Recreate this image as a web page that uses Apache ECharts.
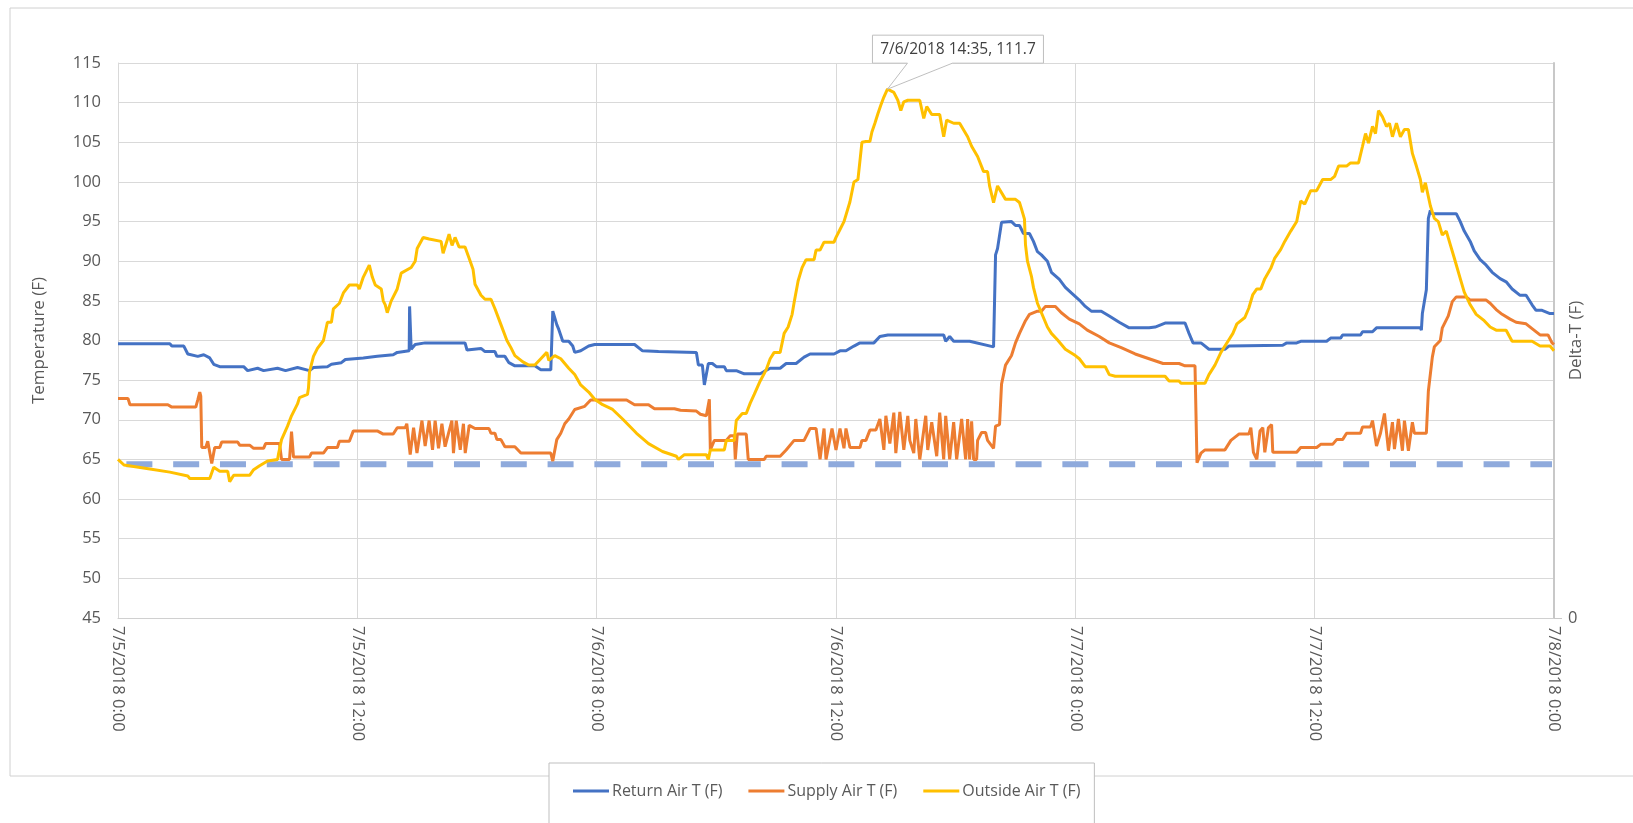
<!DOCTYPE html>
<html>
<head>
<meta charset="utf-8">
<script src="https://cdn.jsdelivr.net/npm/echarts@6/dist/echarts.min.js"></script>
<style>
  html, body { margin: 0; padding: 0; background: #fff; }
  #chart { width: 1633px; height: 823px; }
</style>
</head>
<body>
<div id="chart"></div>
<script>
// hours since 7/5/2018 0:00, temperature (F)
const returnAirT = [
  [0, 79.6], [2.6, 79.6], [2.7, 79.3], [3.3, 79.3], [3.5, 78.3], [4.0, 78.0], [4.3, 78.2], [4.6, 77.8],
  [4.8, 77.0], [5.1, 76.7], [6.3, 76.7], [6.5, 76.2], [7.0, 76.5], [7.3, 76.2], [8.0, 76.5], [8.4, 76.2],
  [9.0, 76.6], [9.6, 76.2], [9.8, 76.6], [10.5, 76.7], [10.7, 77.0], [11.2, 77.2], [11.4, 77.6], [12.3, 77.8],
  [13.0, 78.0], [13.8, 78.2], [14.0, 78.5], [14.6, 78.7], [14.62, 84.3], [14.7, 78.9], [14.9, 79.5], [15.4, 79.7],
  [17.4, 79.7], [17.5, 78.8], [17.6, 79.0], [18.2, 79.0], [18.4, 78.6], [18.9, 78.6], [19.0, 78.0], [19.4, 78.0],
  [19.6, 77.2], [19.9, 76.8], [20.9, 76.8], [21.2, 76.3], [21.7, 76.3], [21.8, 83.7], [22.0, 82.0], [22.1, 81.4],
  [22.3, 79.9], [22.6, 79.9], [22.8, 79.3], [22.9, 78.5], [23.2, 78.7], [23.6, 79.3], [23.9, 79.5], [25.9, 79.5],
  [26.3, 78.7], [27.1, 78.6], [29.0, 78.5], [29.1, 76.9], [29.3, 76.9], [29.4, 74.4], [29.6, 77.1], [29.8, 77.1],
  [30.0, 76.7], [30.4, 76.7], [30.5, 76.2], [31.0, 76.2], [31.4, 75.8], [32.2, 75.8], [32.4, 76.1], [32.7, 76.5],
  [33.2, 76.5], [33.5, 77.1], [34.0, 77.1], [34.4, 77.9], [34.7, 78.3], [35.9, 78.3], [36.2, 78.7], [36.5, 78.7],
  [36.9, 79.3], [37.2, 79.7], [37.9, 79.7], [38.2, 80.5], [38.6, 80.7], [41.4, 80.7], [41.5, 79.9], [41.7, 80.5],
  [41.9, 79.9], [42.7, 79.9], [43.9, 79.2], [44.0, 90.8], [44.1, 91.6], [44.3, 94.9], [44.8, 95.0], [45.0, 94.5],
  [45.2, 94.5], [45.4, 93.5], [45.7, 93.5], [45.9, 92.5], [46.1, 91.2], [46.3, 90.8], [46.6, 90.0], [46.8, 88.6],
  [47.2, 87.7], [47.5, 86.7], [47.8, 86.0], [48.2, 85.1], [48.5, 84.3], [48.8, 83.7], [49.3, 83.7], [49.7, 83.1],
  [50.2, 82.3], [50.7, 81.6], [51.7, 81.6], [52.0, 81.7], [52.5, 82.2], [53.5, 82.2], [53.7, 80.9], [53.9, 79.7],
  [54.3, 79.7], [54.7, 78.9], [55.5, 78.9], [55.7, 79.3], [58.4, 79.4], [58.6, 79.7], [59.1, 79.7], [59.3, 79.9],
  [60.6, 79.9], [60.8, 80.3], [61.3, 80.3], [61.4, 80.7], [62.3, 80.7], [62.4, 81.1], [62.9, 81.1], [63.1, 81.6],
  [65.3, 81.6], [65.35, 81.3], [65.4, 83.4], [65.6, 86.4], [65.7, 95.4], [65.8, 96.4], [65.9, 96.0], [67.1, 96.0],
  [67.3, 95.0], [67.5, 93.8], [67.8, 92.5], [68.0, 91.3], [68.3, 90.2], [68.6, 89.5], [68.9, 88.6], [69.3, 87.8],
  [69.6, 87.4], [69.9, 86.5], [70.3, 85.7], [70.6, 85.7], [70.9, 84.5], [71.1, 83.8], [71.4, 83.8], [71.8, 83.4],
  [72.0, 83.4]
];

const supplyAirT = [
  [0, 72.7], [0.5, 72.7], [0.6, 71.9], [2.5, 71.9], [2.7, 71.6], [3.9, 71.6], [4.0, 72.5], [4.1, 73.5],
  [4.15, 73.0], [4.2, 66.5], [4.4, 66.5], [4.5, 67.3], [4.6, 67.3], [4.7, 64.5], [4.85, 66.5], [5.1, 66.5],
  [5.2, 67.2], [6.0, 67.2], [6.1, 66.8], [6.6, 66.8], [6.8, 66.4], [7.3, 66.4], [7.4, 67.0], [8.1, 67.0],
  [8.2, 65.0], [8.6, 65.0], [8.7, 68.5], [8.8, 65.3], [9.6, 65.3], [9.7, 65.8], [10.3, 65.8], [10.5, 66.5],
  [11.0, 66.5], [11.1, 67.3], [11.6, 67.3], [11.8, 68.6], [13.0, 68.6], [13.3, 68.2], [13.8, 68.2], [14.0, 69.0],
  [14.4, 69.0], [14.48, 69.5], [14.65, 65.6], [14.82, 69.0], [14.99, 65.8], [15.24, 69.9], [15.4, 66.7], [15.6, 69.9],
  [15.77, 66.2], [15.9, 69.9], [16.07, 66.4], [16.24, 69.5], [16.4, 66.6], [16.57, 68.3], [16.74, 69.9], [16.82, 65.8],
  [16.96, 69.9], [17.16, 66.2], [17.32, 69.5], [17.41, 65.8], [17.61, 69.3], [17.9, 68.9], [18.6, 68.9], [18.7, 68.3],
  [18.9, 68.3], [19.0, 67.5], [19.2, 67.5], [19.4, 66.6], [19.9, 66.6], [20.2, 65.8], [21.7, 65.8], [21.8, 64.8],
  [22.0, 67.5], [22.2, 68.3], [22.4, 69.5], [22.6, 70.1], [22.9, 71.3], [23.4, 71.7], [23.7, 72.5], [25.5, 72.5],
  [25.9, 71.9], [26.6, 71.9], [26.9, 71.4], [27.9, 71.4], [28.2, 71.2], [29.0, 71.1], [29.2, 70.7], [29.5, 70.5],
  [29.6, 70.3], [29.65, 72.6], [29.7, 66.2], [29.9, 67.4], [30.5, 67.4], [30.7, 68.0], [30.9, 68.0], [30.95, 65.0],
  [31.05, 68.2], [31.5, 68.2], [31.6, 65.0], [32.4, 65.0], [32.5, 65.4], [33.2, 65.4], [33.5, 66.2], [33.9, 67.4],
  [34.4, 67.4], [34.7, 68.9], [35.0, 68.9], [35.2, 65.0], [35.4, 68.9], [35.5, 65.0], [35.8, 68.9], [36.0, 66.2],
  [36.2, 68.9], [36.4, 66.4], [36.5, 68.9], [36.7, 66.5], [37.2, 66.5], [37.3, 67.4], [37.5, 67.4], [37.7, 68.7],
  [38.0, 68.7], [38.2, 70.1], [38.4, 66.2], [38.5, 70.5], [38.7, 67.0], [38.9, 70.9], [39.0, 65.8], [39.2, 71.0],
  [39.4, 66.2], [39.6, 70.5], [39.7, 67.4], [39.9, 65.8], [40.0, 70.1], [40.2, 65.0], [40.5, 70.5], [40.6, 66.2],
  [40.8, 69.7], [41.05, 65.4], [41.2, 70.9], [41.4, 65.0], [41.5, 70.5], [41.7, 65.0], [41.9, 69.7], [42.05, 65.0],
  [42.3, 70.1], [42.5, 65.0], [42.6, 70.1], [42.7, 65.0], [42.8, 69.8], [42.9, 65.0], [43.05, 65.0], [43.1, 67.4],
  [43.3, 68.4], [43.5, 68.4], [43.6, 67.4], [43.9, 66.4], [44.0, 69.2], [44.2, 69.4], [44.3, 74.5], [44.5, 76.9],
  [44.8, 78.1], [45.0, 79.7], [45.2, 80.9], [45.5, 82.5], [45.7, 83.3], [46.1, 83.7], [46.3, 83.7], [46.5, 84.3],
  [47.0, 84.3], [47.3, 83.5], [47.7, 82.7], [48.2, 82.1], [48.6, 81.3], [49.2, 80.5], [49.7, 79.7], [50.3, 79.1],
  [51.0, 78.3], [51.7, 77.7], [52.4, 77.1], [53.2, 77.1], [53.5, 76.8], [54.0, 76.8], [54.1, 64.6], [54.3, 65.8],
  [54.5, 66.2], [55.5, 66.2], [55.8, 67.4], [56.2, 68.2], [56.7, 68.2], [56.8, 69.0], [56.93, 65.9], [57.1, 65.0],
  [57.26, 68.6], [57.4, 69.0], [57.5, 65.9], [57.68, 69.0], [57.84, 69.4], [57.9, 65.9], [59.1, 65.9], [59.3, 66.5],
  [60.1, 66.5], [60.3, 66.9], [60.9, 66.9], [61.1, 67.5], [61.4, 67.5], [61.6, 68.3], [62.3, 68.3], [62.4, 69.1],
  [62.8, 69.1], [62.9, 69.9], [63.1, 66.7], [63.3, 68.3], [63.5, 70.8], [63.7, 66.1], [63.9, 69.7], [64.0, 66.3],
  [64.2, 70.1], [64.4, 66.1], [64.5, 69.9], [64.7, 66.1], [64.9, 69.7], [65.0, 68.3], [65.6, 68.3], [65.7, 73.6],
  [65.9, 77.9], [66.0, 79.2], [66.3, 80.0], [66.4, 81.6], [66.7, 83.1], [66.9, 84.9], [67.1, 85.5], [67.6, 85.5],
  [67.8, 85.1], [68.6, 85.1], [68.8, 84.7], [69.1, 83.9], [69.4, 83.3], [69.8, 82.7], [70.1, 82.3], [70.6, 82.1],
  [70.9, 81.5], [71.3, 80.7], [71.7, 80.7], [71.9, 79.7], [72.0, 79.5]
];

const outsideAirT = [
  [0, 65.0], [0.3, 64.3], [1.6, 63.8], [2.6, 63.4], [3.5, 62.9], [3.6, 62.6], [4.6, 62.6], [4.8, 64.0],
  [5.1, 63.5], [5.5, 63.5], [5.6, 62.2], [5.8, 63.0], [6.6, 63.0], [6.8, 63.7], [7.1, 64.2], [7.5, 64.8],
  [8.0, 65.0], [8.05, 65.7], [8.2, 67.5], [8.5, 69.2], [8.7, 70.5], [9.0, 72.0], [9.1, 72.8], [9.5, 73.2],
  [9.55, 74.0], [9.6, 76.0], [9.8, 78.0], [10.0, 79.0], [10.3, 80.0], [10.5, 82.3], [10.7, 82.3], [10.8, 84.0],
  [11.1, 84.7], [11.3, 86.0], [11.6, 87.0], [12.0, 87.0], [12.1, 86.5], [12.3, 88.0], [12.6, 89.5], [12.75, 88.0],
  [12.9, 87.0], [13.2, 86.5], [13.3, 85.0], [13.4, 84.5], [13.5, 83.5], [13.7, 85.0], [14.0, 86.5], [14.2, 88.5],
  [14.7, 89.2], [14.9, 90.0], [15.0, 91.6], [15.3, 93.0], [15.6, 92.8], [16.2, 92.5], [16.3, 91.0], [16.6, 93.4],
  [16.75, 92.0], [16.9, 93.0], [17.1, 91.8], [17.4, 91.8], [17.6, 90.4], [17.8, 89.0], [17.9, 87.1], [18.2, 85.7],
  [18.4, 85.2], [18.7, 85.2], [18.9, 84.0], [19.2, 82.0], [19.5, 80.0], [19.7, 79.1], [19.9, 78.1], [20.3, 77.3],
  [20.6, 76.9], [20.9, 76.9], [21.2, 77.7], [21.5, 78.5], [21.6, 77.5], [21.9, 78.1], [22.2, 77.7], [22.6, 76.5],
  [22.9, 75.7], [23.2, 74.4], [23.6, 73.5], [23.9, 72.6], [24.3, 71.9], [24.8, 71.3], [25.3, 70.1], [26.0, 68.3],
  [26.6, 67.0], [27.3, 66.0], [28.0, 65.4], [28.1, 65.0], [28.4, 65.6], [29.5, 65.6], [29.6, 65.0], [29.7, 66.2],
  [30.4, 66.2], [30.5, 67.4], [30.9, 67.4], [31.0, 69.9], [31.3, 70.8], [31.5, 70.8], [31.7, 72.1], [31.9, 73.2],
  [32.2, 74.9], [32.5, 76.3], [32.7, 77.7], [32.9, 78.5], [33.2, 78.5], [33.4, 80.9], [33.6, 81.7], [33.8, 83.3],
  [33.9, 84.8], [34.1, 87.5], [34.3, 89.2], [34.5, 90.2], [34.9, 90.2], [35.0, 91.4], [35.2, 91.4], [35.4, 92.4],
  [35.9, 92.4], [36.0, 93.0], [36.2, 94.0], [36.4, 95.0], [36.5, 95.0], [36.7, 97.5], [36.9, 100.0], [37.1, 100.3],
  [37.3, 105.0], [37.5, 105.1], [37.7, 105.1], [37.8, 106.3], [37.95, 107.4], [38.1, 108.6], [38.25, 109.7], [38.4, 110.7],
  [38.58, 111.7], [38.9, 111.3], [39.1, 110.3], [39.25, 109.0], [39.4, 110.1], [39.6, 110.3], [40.2, 110.3], [40.4, 108.0],
  [40.55, 109.5], [40.8, 108.5], [41.2, 108.5], [41.4, 105.7], [41.55, 107.8], [41.9, 107.4], [42.2, 107.4], [42.6, 105.7],
  [42.8, 104.5], [43.1, 103.2], [43.4, 101.3], [43.6, 101.3], [43.7, 99.5], [43.9, 97.4], [44.1, 99.5], [44.2, 99.7],
  [44.5, 97.8], [45.0, 97.8], [45.2, 97.4], [45.3, 96.6], [45.45, 95.3], [45.5, 92.1], [45.6, 90.0], [45.8, 88.1],
  [45.9, 86.7], [46.1, 84.7], [46.4, 82.9], [46.6, 81.7], [46.8, 80.9], [47.1, 80.1], [47.5, 78.9], [48.0, 78.1],
  [48.2, 77.7], [48.5, 76.7], [49.5, 76.7], [49.7, 75.7], [50.0, 75.5], [52.5, 75.5], [52.7, 74.9], [53.2, 74.9],
  [53.3, 74.6], [54.5, 74.6], [54.7, 75.7], [55.0, 76.9], [55.3, 78.5], [55.7, 80.1], [55.9, 80.9], [56.1, 82.1],
  [56.5, 82.9], [56.7, 84.1], [56.9, 85.8], [57.1, 86.5], [57.3, 86.5], [57.5, 87.8], [57.8, 89.1], [58.0, 90.4],
  [58.3, 91.5], [58.5, 92.5], [58.8, 93.8], [59.1, 95.0], [59.3, 97.6], [59.5, 97.2], [59.8, 98.9], [60.1, 98.9],
  [60.4, 100.3], [60.8, 100.3], [61.0, 100.7], [61.2, 102.0], [61.6, 102.0], [61.8, 102.4], [62.2, 102.4], [62.4, 104.5],
  [62.55, 106.1], [62.7, 104.9], [62.9, 107.0], [63.05, 106.1], [63.2, 109.0], [63.4, 108.2], [63.6, 107.0], [63.75, 107.4],
  [63.9, 105.7], [64.1, 107.4], [64.3, 105.7], [64.5, 106.6], [64.7, 106.6], [64.9, 103.6], [65.1, 102.0], [65.3, 100.3],
  [65.4, 98.7], [65.55, 99.9], [65.8, 97.0], [66.0, 95.4], [66.2, 95.0], [66.4, 93.3], [66.6, 93.8], [66.8, 92.1],
  [67.0, 90.4], [67.3, 87.8], [67.5, 86.1], [67.8, 84.5], [68.1, 83.3], [68.5, 82.5], [68.8, 81.7], [69.1, 81.3],
  [69.6, 81.3], [69.9, 79.9], [70.9, 79.9], [71.3, 79.3], [71.8, 79.3], [72.0, 78.7]
];

// dashed reference line
const deltaT = [[0.42, 64.4], [71.9, 64.4]];

const xTickLabels = ['7/5/2018 0:00', '7/5/2018 12:00', '7/6/2018 0:00', '7/6/2018 12:00',
  '7/7/2018 0:00', '7/7/2018 12:00', '7/8/2018 0:00'];

const peakPoint = [38.58, 111.7];
const peakLabel = '7/6/2018 14:35, 111.7';

const font = "'Open Sans', sans-serif";
const textColor = '#595959';
const gridColor = '#d9d9d9';

const chart = echarts.init(document.getElementById('chart'));

const lineSeries = (name, data, color) => ({
  name: name,
  type: 'line',
  data: data,
  showSymbol: false,
  lineStyle: { color: color, width: 3 },
  itemStyle: { color: color }
});

const option = {
  animation: false,
  backgroundColor: '#fff',
  textStyle: { fontFamily: font },
  grid: { left: 118, right: 79, top: 63, bottom: 205 },
  legend: {
    data: ['Return Air T (F)', 'Supply Air T (F)', 'Outside Air T (F)'],
    left: 549,
    top: 763,
    padding: [20, 14, 30, 24],
    itemGap: 26,
    itemWidth: 36,
    itemHeight: 3,
    icon: 'rect',
    backgroundColor: '#fff',
    borderColor: '#bfbfbf',
    borderWidth: 1,
    textStyle: { color: textColor, fontSize: 16, fontFamily: font, padding: [0, 0, 0, -2] }
  },
  xAxis: {
    type: 'value',
    min: 0,
    max: 72,
    interval: 12,
    axisLine: { show: true, lineStyle: { color: '#d0d0d0', width: 1 } },
    axisTick: { show: false },
    splitLine: { show: true, lineStyle: { color: gridColor, width: 1 } },
    axisLabel: {
      rotate: -90,
      margin: 8,
      color: textColor,
      fontSize: 16.5,
      fontFamily: font,
      formatter: v => xTickLabels[Math.round(v / 12)]
    }
  },
  yAxis: [
    {
      type: 'value',
      min: 45,
      max: 115,
      interval: 5,
      name: 'Temperature (F)',
      nameLocation: 'middle',
      nameGap: 70,
      nameMoveOverlap: false,
      nameTextStyle: { color: textColor, fontSize: 17, fontFamily: font },
      axisLine: { show: true, lineStyle: { color: gridColor } },
      axisTick: { show: false },
      splitLine: { show: true, lineStyle: { color: gridColor, width: 1 } },
      axisLabel: { color: textColor, fontSize: 16.5, fontFamily: font, margin: 17 }
    },
    {
      type: 'value',
      position: 'right',
      min: 0,
      max: 1,
      interval: 1,
      name: 'Delta-T (F)',
      nameLocation: 'middle',
      nameRotate: 90,
      nameGap: 14,
      nameMoveOverlap: false,
      nameTextStyle: { color: textColor, fontSize: 17, fontFamily: font },
      axisLine: { show: true, lineStyle: { color: '#c8c8c8', width: 2 } },
      axisTick: { show: true, customValues: [0], length: 8, lineStyle: { color: '#c8c8c8' } },
      splitLine: { show: false },
      axisLabel: { customValues: [0], color: textColor, fontSize: 16.5, fontFamily: font, margin: 14 }
    }
  ],
  series: [
    {
      name: 'Delta-T (F)',
      type: 'line',
      data: deltaT,
      showSymbol: false,
      lineStyle: { color: '#8faadc', width: 6, type: [26, 20.8] }
    },
    lineSeries('Return Air T (F)', returnAirT, '#4472c4'),
    lineSeries('Supply Air T (F)', supplyAirT, '#ed7d31'),
    lineSeries('Outside Air T (F)', outsideAirT, '#ffc000')
  ]
};

chart.setOption(option);

// outer chart frame and the data callout on the peak
const p = chart.convertToPixel({ gridIndex: 0 }, peakPoint);
chart.setOption({
  graphic: [
    {
      type: 'rect',
      z: 0,
      shape: { x: 10, y: 8, width: 1640, height: 768 },
      style: { fill: 'none', stroke: '#d0d0d0', lineWidth: 1 },
      silent: true
    },
    {
      type: 'polygon',
      z: 100,
      shape: {
        points: [
          [p[0] - 15, p[1] - 54], [p[0] + 156, p[1] - 54], [p[0] + 156, p[1] - 26],
          [p[0] + 65, p[1] - 26], [p[0], p[1]], [p[0] + 20, p[1] - 26], [p[0] - 15, p[1] - 26]
        ]
      },
      style: { fill: '#fff', stroke: '#bfbfbf', lineWidth: 1 }
    },
    {
      type: 'text',
      z: 101,
      x: p[0] + 70.5,
      y: p[1] - 40,
      style: {
        text: peakLabel,
        fill: '#404040',
        font: "15.5px 'Open Sans', sans-serif",
        align: 'center',
        verticalAlign: 'middle'
      }
    }
  ]
});
</script>
</body>
</html>
